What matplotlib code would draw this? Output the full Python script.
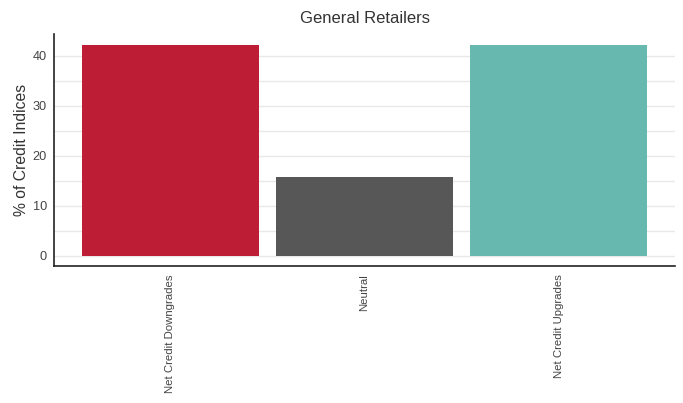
import matplotlib
matplotlib.use("Agg")
import matplotlib.pyplot as plt
from matplotlib.ticker import MultipleLocator

plt.rcParams['font.family'] = ['Liberation Sans', 'DejaVu Sans']

categories = ["Net Credit Downgrades", "Neutral", "Net Credit Upgrades"]
values = [42.3, 15.8, 42.3]
colors = ["#BE1E35", "#575757", "#67B8AF"]

fig = plt.figure(figsize=(6.83, 4.03), dpi=100)
ax = fig.add_axes([54 / 683, 1 - 266 / 403, (675 - 54) / 683, (266 - 34) / 403])

x = list(range(len(categories)))
ax.bar(x, values, width=0.91, color=colors, zorder=3)

ax.set_xlim(-0.6, 2.6)
ax.set_ylim(-2, 44.4)
ax.yaxis.set_major_locator(MultipleLocator(10))
ax.yaxis.set_minor_locator(MultipleLocator(5))
ax.grid(axis='y', which='both', color='#e8e8e8', linewidth=1.0, zorder=0)
ax.set_axisbelow(True)

ax.set_xticks(x)
ax.set_xticklabels(categories, rotation=90, fontsize=8.2, color='#444444')
ax.tick_params(axis='x', length=0, pad=6)
ax.tick_params(axis='y', which='both', length=0, pad=5, labelsize=9.2, labelcolor='#444444')

for side in ['top', 'right']:
    ax.spines[side].set_visible(False)
for side in ['left', 'bottom']:
    ax.spines[side].set_color('#222222')
    ax.spines[side].set_linewidth(1.2)

ax.set_ylabel("% of Credit Indices", fontsize=11.3, color='#333333', labelpad=3)
ax.set_title("General Retailers", fontsize=12, color='#333333', pad=8)

fig.savefig("out.png", dpi=100)
